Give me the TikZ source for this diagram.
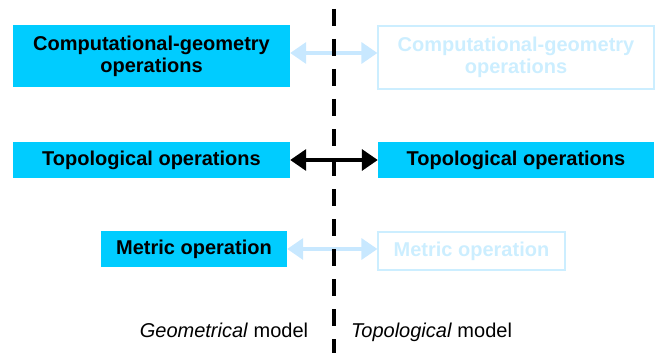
\documentclass[tikz,border=0pt]{standalone}
\usepackage{fontspec}
\setmainfont{Liberation Sans}
\usetikzlibrary{arrows.meta}
\definecolor{boxcyan}{HTML}{00CCFF}
\definecolor{faint}{HTML}{CCEEFF}
\definecolor{faintarrow}{HTML}{C8E8FF}
\begin{document}
\begin{tikzpicture}[x=1pt,y=-1pt,
  opbox/.style={fill=boxcyan, text=black, inner sep=0pt, align=center,
    font=\bfseries\fontsize{20}{22}\selectfont},
  ghostbox/.style={draw=faint, line width=1.2pt, text=faint, inner sep=0pt, align=center,
    font=\bfseries\fontsize{20}{22}\selectfont},
  linkarrow/.style={line width=3.5pt, {Triangle[length=16pt 0 0,width=21pt 0 0]}-{Triangle[length=16pt 0 0,width=21pt 0 0]}},
  strong/.style={linkarrow, draw=black},
  weak/.style={linkarrow, draw=faintarrow},
  divider/.style={draw=black, line width=3.5pt, dash pattern=on 17pt off 13pt},
  caption/.style={font=\fontsize{20}{24}\selectfont, anchor=base}]
\useasboundingbox (0,0) rectangle (659,353);
% left column
\node[opbox, minimum width=277pt, minimum height=62pt] (cgL) at (151.5,56) {Computational-geometry\\operations};
\node[opbox, minimum width=277pt, minimum height=36pt] (tpL) at (151.5,160) {Topological operations};
\node[opbox, minimum width=186pt, minimum height=36pt] (mtL) at (194,249) {Metric operation};
% right column
\node[ghostbox, minimum width=276pt, minimum height=63pt] (cgR) at (516,57.5) {Computational-geometry\\operations};
\node[opbox, minimum width=276pt, minimum height=36pt] (tpR) at (516,160) {Topological operations};
\node[ghostbox, minimum width=187pt, minimum height=38pt] (mtR) at (471.5,251) {Metric operation};
% connectors
\draw[weak] ([yshift=3pt]cgL.east) -- ([yshift=4.5pt]cgR.west);
\draw[weak] (mtL.east) -- ([yshift=2pt]mtR.west);
% divider
\coordinate (dtop) at (334,9);
\coordinate (dbot) at (334,353);
\draw[divider] (dtop) -- (dbot);
\draw[strong] (tpL.east) -- (tpR.west);
% captions
\node[caption] (geo) at (224,337) {\textit{Geometrical} model};
\node[caption] (top) at (431.5,337) {\textit{Topological} model};
\end{tikzpicture}
\end{document}
